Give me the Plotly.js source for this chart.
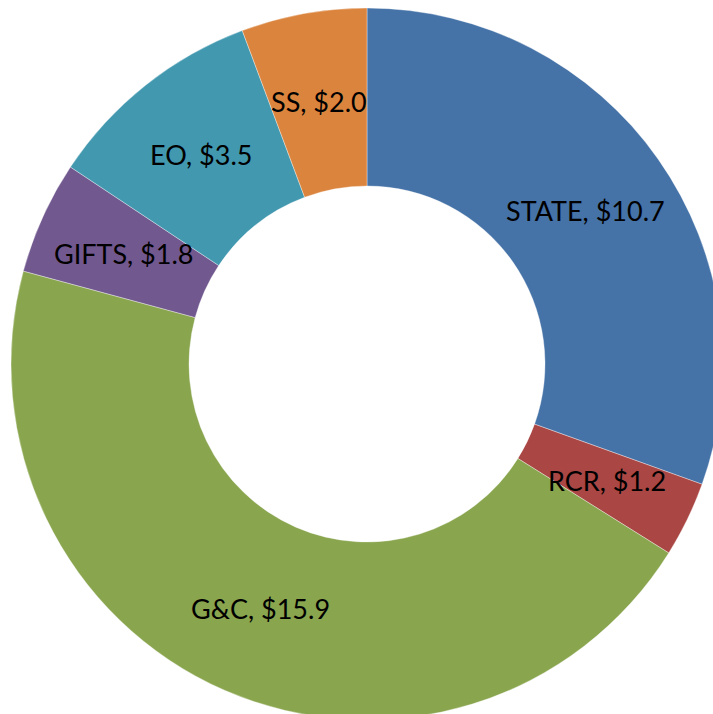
<!DOCTYPE html>
<html>
<head>
<meta charset="utf-8">
<script src="https://cdn.plot.ly/plotly-3.0.1.min.js"></script>
<style>
html, body { margin: 0; padding: 0; overflow: hidden; background: #fff; }
#chart { width: 723px; height: 720px; }
</style>
</head>
<body>
<div id="chart"></div>
<script>
const categories = ["STATE", "RCR", "G&C", "GIFTS", "EO", "SS"];
const values = [10.7, 1.2, 15.9, 1.8, 3.5, 2.0];
const colors = ["#4572A7", "#AA4643", "#89A54E", "#71588F", "#4198AF", "#DB843D"];

const W = 723, H = 720;
const domX = [11 / W, 1];
const domY = [0, 1 - 8 / H];
const holeFrac = 0.5;

const labelsText = categories.map((c, i) => c + ", $" + values[i].toFixed(1));

const trace = {
  type: "pie",
  labels: categories,
  values: values,
  textinfo: "none",
  hole: holeFrac,
  sort: false,
  direction: "clockwise",
  rotation: 0,
  marker: { colors: colors, line: { color: "rgba(255,255,255,0.6)", width: 0.6 } },
  domain: { x: domX, y: domY },
  showlegend: false,
  hoverinfo: "label+value"
};

// Label positions: middle of the ring, at each slice's mid angle
const total = values.reduce((a, b) => a + b, 0);
const cx = (domX[0] + domX[1]) / 2;           // paper fraction
const cy = (domY[0] + domY[1]) / 2;
const R = Math.min((domX[1] - domX[0]) * W, (domY[1] - domY[0]) * H) / 2;
const rMid = R * (1 + holeFrac) / 2;
let cum = 0;
const annotations = values.map((v, i) => {
  const mid = (cum + v / 2) / total * 2 * Math.PI;
  cum += v;
  return {
    xref: "paper", yref: "paper",
    x: cx + rMid * Math.sin(mid) / W,
    y: cy + rMid * Math.cos(mid) / H,
    xanchor: "center", yanchor: "middle",
    text: labelsText[i],
    showarrow: false,
    font: { family: "Lato, 'Liberation Sans', sans-serif", size: 27, color: "#000" }
  };
});

const layout = {
  width: W,
  height: H,
  margin: { l: 0, r: 0, t: 0, b: 0, pad: 0 },
  paper_bgcolor: "#fff",
  showlegend: false,
  annotations: annotations
};

Plotly.newPlot("chart", [trace], layout, { staticPlot: true, displayModeBar: false });
</script>
</body>
</html>
